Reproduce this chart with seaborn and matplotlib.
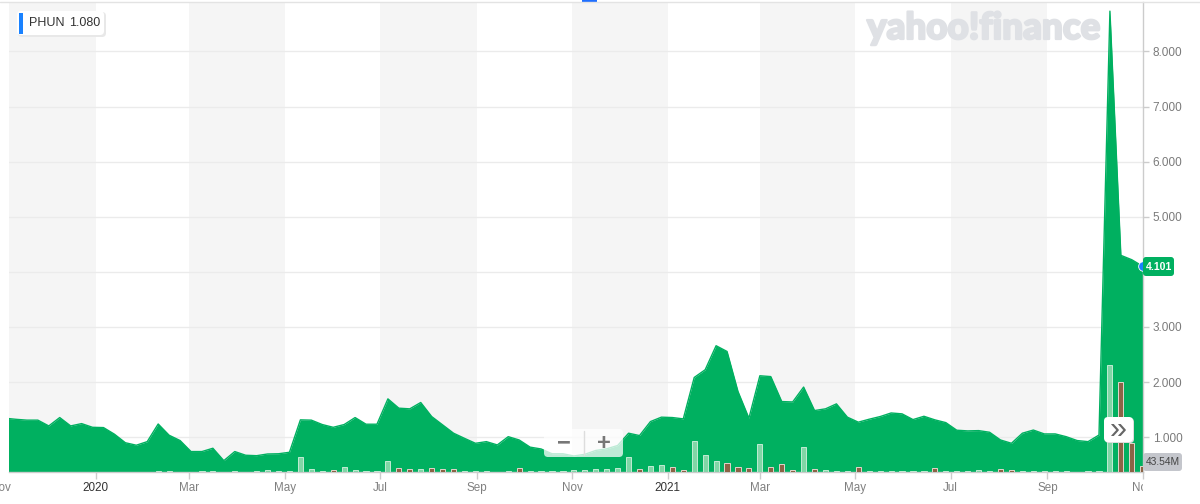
import pandas as pd
import matplotlib
matplotlib.use("Agg")
import matplotlib.pyplot as plt
import matplotlib.dates as mdates
import matplotlib.transforms as mtrans
import matplotlib.patheffects as pe
from matplotlib.patches import FancyBboxPatch, Rectangle
from matplotlib.lines import Line2D
import seaborn as sns

# weekly data, PHUN
weeks = pd.date_range("2019-10-28", periods=106, freq="7D")

close = [1.45, 1.345, 1.325, 1.31, 1.31, 1.205, 1.357, 1.205, 1.247, 1.18,
         1.175, 1.055, 0.90, 0.855, 0.92, 1.24, 1.036, 0.94, 0.74, 0.74,
         0.80, 0.575, 0.74, 0.673, 0.665, 0.696, 0.70, 0.727, 1.315, 1.31,
         1.23, 1.18, 1.23, 1.357, 1.236, 1.236, 1.696, 1.527, 1.515, 1.63,
         1.375, 1.224, 1.073, 0.98, 0.89, 0.92, 0.86, 1.01, 0.95, 0.82,
         0.787, 0.70, 0.70, 0.66, 0.69, 0.76, 0.79, 0.85, 1.073, 1.03,
         1.284, 1.364, 1.357, 1.333, 2.084, 2.224, 2.66, 2.556, 1.83, 1.345,
         2.115, 2.10, 1.647, 1.64, 1.91, 1.484, 1.515, 1.605, 1.364, 1.273,
         1.327, 1.375, 1.44, 1.424, 1.32, 1.38, 1.315, 1.265, 1.127, 1.115,
         1.12, 1.09, 0.95, 0.89, 1.073, 1.13, 1.06, 1.06, 1.01, 0.94,
         0.92, 1.04, 8.73, 4.30, 4.22, 4.101]

# volume in millions
volume_m = [0.5, 0.5, 0.5, 0.5, 0.5, 0.5, 0.5, 0.5, 0.5, 0.5,
            0.5, 0.5, 0.5, 0.5, 0.5, 7.6, 7.6, 0.5, 0.5, 7.6,
            7.6, 0.5, 6.1, 0.5, 7.6, 13.0, 7.6, 7.6, 111, 20.6,
            7.6, 15.3, 35.9, 15.3, 7.6, 7.6, 81.8, 28.3, 20.6, 20.6,
            28.3, 20.6, 20.6, 7.6, 7.6, 7.6, 0.5, 7.6, 25.2, 7.6,
            7.6, 7.6, 7.6, 11.5, 15.3, 19.1, 22.9, 26.7, 109, 19.1,
            42.0, 51.2, 32.9, 13.0, 235, 128, 81.8, 63.4, 32.9, 25.2,
            212, 34.4, 57.3, 11.5, 187, 17.6, 11.5, 7.6, 7.6, 34.4,
            7.6, 7.6, 7.6, 7.6, 7.6, 7.6, 28.3, 7.6, 7.6, 7.6,
            13.0, 7.6, 20.6, 11.5, 7.6, 7.6, 7.6, 7.6, 5.3, 0.5,
            7.6, 7.6, 815, 682, 216, 43.54]

vol_up = [1, 1, 1, 1, 1, 1, 1, 1, 1, 1,
          1, 1, 1, 1, 1, 1, 1, 1, 1, 1,
          1, 1, 1, 1, 1, 1, 1, 1, 1, 1,
          1, 0, 1, 1, 1, 1, 1, 0, 0, 1,
          0, 0, 0, 1, 1, 1, 1, 1, 0, 1,
          1, 1, 1, 1, 1, 1, 1, 1, 1, 0,
          1, 1, 0, 0, 1, 1, 1, 0, 0, 0,
          1, 0, 0, 0, 1, 0, 1, 1, 1, 0,
          1, 1, 1, 1, 1, 1, 0, 1, 1, 1,
          1, 1, 0, 0, 1, 1, 1, 1, 1, 1,
          1, 1, 1, 0, 0, 0]

green = "#00b060"
W, H = 1200, 504

sns.set_theme(style="white")
plt.rcParams["font.family"] = ["Liberation Sans", "DejaVu Sans"]

fig = plt.figure(figsize=(W / 100, H / 100), dpi=100)
fig.patch.set_facecolor("white")
ax = fig.add_axes([9 / W, 1 - 471.7 / H, (1143 - 9) / W, (471.7 - 2) / H])
ax.set_facecolor("white")

xmin = pd.Timestamp("2019-11-06 13:00")
xmax = pd.Timestamp("2021-11-01 04:00")
ax.set_xlim(xmin, xmax)
ax.set_ylim(0.3745, 8.896)

# alternating two-month bands
for start in pd.date_range("2019-11-01", "2021-07-01", freq="4MS"):
    ax.axvspan(start, start + pd.DateOffset(months=2), color="#f5f5f5",
               lw=0, zorder=0.1)

ax.set_axisbelow(True)
ax.set_yticks(range(1, 9))
ax.yaxis.grid(True, color="#ebebeb", lw=1)
ax.xaxis.grid(False)

# price area
ax.fill_between(weeks, close, 0, color=green, lw=0, zorder=2)
sns.lineplot(x=weeks, y=close, color=green, lw=1, ax=ax, zorder=2.1)

# volume bars on their own scale
axv = ax.twinx()
axv.set_ylim(0, 3588)
axv.bar(weeks, volume_m, width=3.3,
        color=["#80d6a6" if u else "#8b6446" for u in vol_up],
        edgecolor=["#c2ecd4" if u else "#e2d6cc" for u in vol_up],
        lw=0.7, zorder=3)
axv.set_yticks([])
for s in axv.spines.values():
    s.set_visible(False)

# spines and ticks
for side in ["left", "top"]:
    ax.spines[side].set_visible(False)
ax.spines["right"].set_color("#cccccc")
ax.spines["bottom"].set_color("#cccccc")
ax.spines["right"].set_linewidth(1)
ax.spines["bottom"].set_linewidth(1)

ax.yaxis.tick_right()
# the 4.000 label sits under the last-price tag
ax.set_yticklabels(["" if v == 4 else f"{v:.3f}" for v in range(1, 9)])
ax.tick_params(axis="y", which="both", right=True, left=False, direction="out",
               length=4, width=1, color="#cccccc", labelcolor="#7a7a7a",
               labelsize=8.5, pad=3)
ax.set_ylabel("")
ax.set_xlabel("")

tick_dates = pd.date_range("2019-11-01", "2021-11-01", freq="2MS")
ax.set_xticks([d for d in tick_dates if xmin <= d <= xmax])
ax.set_xticklabels([])
ax.tick_params(axis="x", bottom=True, direction="out", length=5, width=1,
               color="#cccccc")

blend = mtrans.blended_transform_factory(ax.transData, ax.transAxes)
lab_tr = mtrans.offset_copy(blend, fig=fig, y=-16, units="dots")
clip = mtrans.TransformedBbox(mtrans.Bbox([[0, 0], [1143 / W, 1]]), fig.transFigure)
for d in tick_dates:
    lab = str(d.year) if d.month == 1 else d.strftime("%b")
    t = fig.text(mdates.date2num(d), 0, lab, transform=lab_tr, ha="center",
                 va="center", fontsize=8.4,
                 color="#333333" if d.month == 1 else "#808080")
    t.set_clip_on(True)
    t.set_clip_box(clip)

# top border line and small blue handle
fig.add_artist(Line2D([0, 1], [1 - 2 / H, 1 - 2 / H], color="#e3e3e3", lw=1,
                      transform=fig.transFigure))
fig.add_artist(Rectangle((582 / W, 1 - 3 / H), 15 / W, 3 / H, color="#1f6fff",
                         transform=fig.transFigure, lw=0))

# watermark
fig.text(867 / W, 1 - 28 / H, "yahoo!finance", fontsize=26.5, family="Lato",
         weight="black", color="#dfe1e5", ha="left", va="center",
         path_effects=[pe.withStroke(linewidth=1.6, foreground="#dfe1e5")])


def px_box(x0, y0, x1, y1, fc, ec="none", alpha=1.0, r=3, z=5):
    p = FancyBboxPatch((x0, H - y1), x1 - x0, y1 - y0,
                       boxstyle=f"round,pad=0,rounding_size={r}",
                       fc=fc, ec=ec, alpha=alpha, lw=0.8,
                       transform=None, zorder=z)
    fig.add_artist(p)
    return p


# ticker legend
px_box(18, 12, 106, 37, "#e8e8e8", r=4, z=4)
px_box(17, 11, 104, 35, "white", r=4, z=5)
fig.add_artist(Rectangle((19 / W, 1 - 34 / H), 4 / W, 21 / H, color="#1a82ff",
                         transform=fig.transFigure, lw=0, zorder=6))
fig.text(29 / W, 1 - 23.5 / H, "PHUN", fontsize=9, color="#333333",
         ha="left", va="center", zorder=7)
fig.text(69 / W, 1 - 23.5 / H, "1.080", fontsize=9, color="#333333",
         ha="left", va="center", zorder=7)

# last price marker and label
ax.plot(weeks[-1], close[-1], "o", color="#1a82ff", ms=7, mec="white",
        mew=0.6, clip_on=False, zorder=4)
px_box(1143, 257, 1174, 276, green, r=3, z=6)
fig.text(1158.5 / W, 1 - 266.5 / H, f"{close[-1]:.3f}", fontsize=7.6,
         weight="bold", color="white", ha="center", va="center", zorder=7)

# last volume label
px_box(1143, 453, 1182, 471, "#c4c6cc", r=3, z=6)
fig.text(1162.5 / W, 1 - 462 / H, f"{volume_m[-1]:.2f}M", fontsize=7.4,
         color="#444444", ha="center", va="center", zorder=7)

# scroll button
px_box(1105, 418, 1134, 443, "#dddddd", r=4, z=5)
px_box(1104, 417, 1133, 442, "white", r=4, z=6)
fig.text(1118.5 / W, 1 - 430 / H, "»", fontsize=22, color="#666666",
         ha="center", va="center", zorder=7)

# zoom control
px_box(544, 429, 623, 457, "white", alpha=0.75, r=4, z=5)
fig.add_artist(Line2D([584 / W, 584 / W], [1 - 455 / H, 1 - 431 / H],
                      color="#dddddd", lw=1, transform=fig.transFigure, zorder=6))
fig.text(564 / W, 1 - 443 / H, "\u2212", fontsize=17, weight="bold",
         color="#777777", ha="center", va="center", zorder=7)
fig.text(603.5 / W, 1 - 443 / H, "+", fontsize=17, weight="bold",
         color="#777777", ha="center", va="center", zorder=7)

fig.savefig("out.png", dpi=100, facecolor="white")
